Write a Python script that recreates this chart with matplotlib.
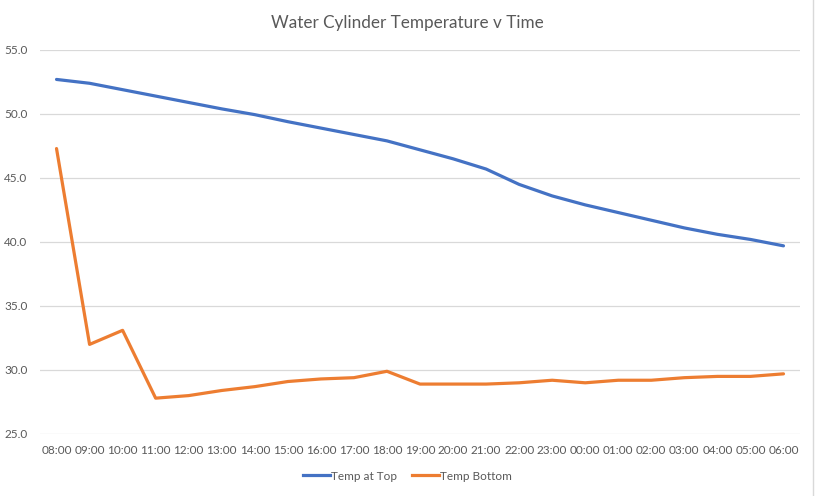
import numpy as np
import matplotlib
matplotlib.use('Agg')
import matplotlib.pyplot as plt
from matplotlib.lines import Line2D

plt.rcParams['font.family'] = ['Lato', 'DejaVu Sans']

# data
times = ['08:00', '09:00', '10:00', '11:00', '12:00', '13:00', '14:00', '15:00',
         '16:00', '17:00', '18:00', '19:00', '20:00', '21:00', '22:00', '23:00',
         '00:00', '01:00', '02:00', '03:00', '04:00', '05:00', '06:00']
temp_top = [52.7, 52.4, 51.9, 51.4, 50.9, 50.4, 49.95, 49.4, 48.9, 48.4, 47.9,
            47.2, 46.5, 45.7, 44.5, 43.6, 42.9, 42.3, 41.7, 41.1, 40.6, 40.2, 39.7]
temp_bottom = [47.3, 32.0, 33.1, 27.8, 28.0, 28.4, 28.7, 29.1, 29.3, 29.4, 29.9,
               28.9, 28.9, 28.9, 29.0, 29.2, 29.0, 29.2, 29.2, 29.4, 29.5, 29.5, 29.7]

blue = '#4472C4'
orange = '#ED7D31'
grey_txt = '#595959'

fig = plt.figure(figsize=(8.15, 4.96), dpi=100)
ax = fig.add_axes([40 / 815, 62 / 496, 760 / 815, 384 / 496])

x = np.arange(len(times))
ax.plot(x, temp_top, color=blue, lw=2.3, solid_capstyle='round', solid_joinstyle='round', zorder=3)
ax.plot(x, temp_bottom, color=orange, lw=2.3, solid_capstyle='round', solid_joinstyle='round', zorder=3)

ax.set_xlim(-0.5, len(times) - 0.5)
ax.set_ylim(25, 55)
ax.set_yticks(np.arange(25, 56, 5))
ax.set_yticklabels([f'{v:.1f}' for v in np.arange(25, 56, 5)])
ax.set_xticks(x)
ax.set_xticklabels(times)
ax.tick_params(axis='both', length=0, labelsize=8.5, labelcolor=grey_txt)
ax.tick_params(axis='y', pad=9)
ax.tick_params(axis='x', pad=8)
ax.grid(axis='y', color='#D9D9D9', lw=0.9)
ax.set_axisbelow(True)
for s in ax.spines.values():
    s.set_visible(False)

fig.text(0.5, 1 - 23 / 496, 'Water Cylinder Temperature v Time', ha='center', va='center',
         fontsize=12.3, color=grey_txt)

handles = [Line2D([], [], color=blue, lw=2.3), Line2D([], [], color=orange, lw=2.3)]
fig.legend(handles, ['Temp at Top', 'Temp Bottom'], loc='center', bbox_to_anchor=(0.5, 1 - 476 / 496),
           ncol=2, frameon=False, fontsize=8.5, labelcolor=grey_txt, handlelength=2.3,
           handletextpad=0.1, columnspacing=1.2)

# chart border on the right edge
fig.add_artist(Line2D([813 / 815, 813 / 815], [0, 1], color='#D9D9D9', lw=1))

fig.savefig('out.png', dpi=100)
